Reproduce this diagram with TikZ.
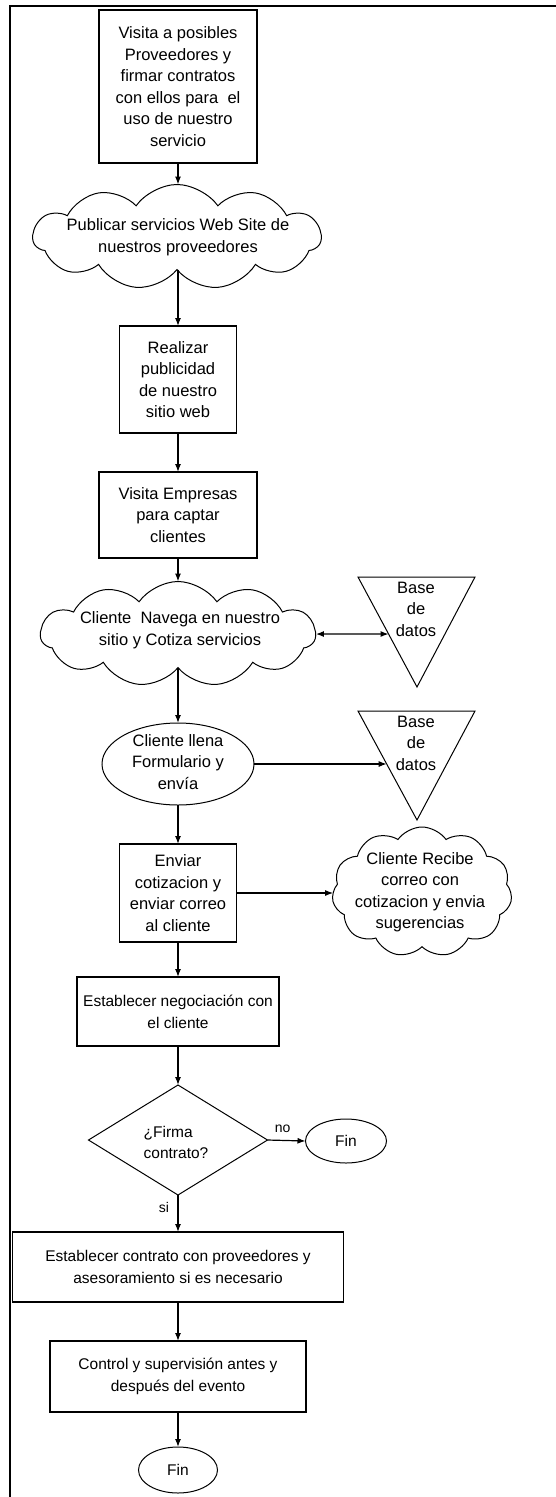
\documentclass[tikz,border=0pt]{standalone}
\usepackage{fontspec}
\setmainfont{Liberation Sans}
\usetikzlibrary{shapes.geometric,shapes.symbols,arrows.meta}
\begin{document}
\begin{tikzpicture}[x=1pt,y=-1pt,
  every node/.style={inner sep=0pt,outer sep=0pt},
  txt/.style={align=center,font=\fontsize{16.5}{21.5}\selectfont},
  txts/.style={align=center,font=\fontsize{15.5}{22}\selectfont},
  box/.style={draw,line width=1.2pt,rectangle,txt},
  boxs/.style={draw,line width=1.2pt,rectangle,txts},
  cloudbox/.style={draw,line width=1pt,cloud,cloud puffs=11,cloud puff arc=110},
  oval/.style={draw,line width=1pt,ellipse},
  dia/.style={draw,line width=1pt,diamond},
  arr/.style={line width=1.2pt,-{Latex[length=8pt,width=6pt]}},
  darr/.style={line width=1.2pt,{Latex[length=8pt,width=6pt]}-{Latex[length=8pt,width=6pt]}},
  lbl/.style={font=\fontsize{14}{16}\selectfont}
]
\useasboundingbox (0,0) rectangle (556,1497);
% frame
\coordinate (fr1) at (10,1497);
\coordinate (fr2) at (10,6);
\coordinate (fr3) at (556,6);
\draw[line width=2pt] (fr1) -- (fr2) -- (fr3);

% main column
\node[box,minimum width=158pt,minimum height=153pt] (b1) at (178,86.5)
  {Visita a posibles\\Proveedores y\\firmar contratos\\con ellos para\ \ el\\uso de nuestro\\servicio};

\node[cloudbox,minimum width=288pt,minimum height=105pt] (c1) at (177,237) {};
\node[txt] (c1t) at (178,237) {Publicar servicios Web Site de\\nuestros proveedores};

\node[box,minimum width=117pt,minimum height=107pt] (b2) at (178,379.5)
  {Realizar\\publicidad\\de nuestro\\sitio web};

\node[box,minimum width=158pt,minimum height=86pt] (b3) at (178,515)
  {Visita Empresas\\para captar\\clientes};

\node[cloudbox,minimum width=275pt,minimum height=105pt] (c2) at (178,634) {};
\node[txt] (c2t) at (180,630) {Cliente\ \ Navega en nuestro\\sitio y Cotiza servicios};

\node[oval,minimum width=152pt,minimum height=82pt] (e1) at (178,764) {};
\node[txt] (e1t) at (178,762) {Cliente llena\\Formulario y\\envía};

\node[box,minimum width=117pt,minimum height=98pt] (b4) at (178,893)
  {Enviar\\cotizacion y\\enviar correo\\al cliente};

\node[boxs,minimum width=202pt,minimum height=69pt] (b5) at (178,1011.5)
  {Establecer negociación con\\el cliente};

\node[dia,minimum width=179pt,minimum height=110pt] (d1) at (178,1140) {};
\node[align=left,font=\fontsize{15.5}{21}\selectfont] (d1t) at (176,1142) {¿Firma\\contrato?};

\node[oval,minimum width=81pt,minimum height=44pt,txts] (f1) at (346,1141) {Fin};

\node[boxs,minimum width=331pt,minimum height=70pt] (b6) at (178,1267)
  {Establecer contrato con proveedores y\\asesoramiento si es necesario};

\node[boxs,minimum width=256pt,minimum height=71pt] (b7) at (178,1376.5)
  {Control y supervisión antes y\\después del evento};

\node[oval,minimum width=79pt,minimum height=46pt,txts] (f2) at (178,1470) {Fin};

% databases (triangles)
\node[txt] (db1) at (416,609) {Base\\de\\datos};
\coordinate (t1a) at (358,577);
\coordinate (t1b) at (475,577);
\coordinate (t1c) at (417,687);
\draw[line width=1pt] (t1a) -- (t1b) -- (t1c) -- cycle;
\coordinate (db1in) at (388.6,634);

\node[txt] (db2) at (416,743) {Base\\de\\datos};
\coordinate (t2a) at (358,711);
\coordinate (t2b) at (475,711);
\coordinate (t2c) at (417,820);
\draw[line width=1pt] (t2a) -- (t2b) -- (t2c) -- cycle;
\coordinate (db2in) at (386.7,764);

% cloud 3
\node[cloudbox,minimum width=180pt,minimum height=130pt] (c3) at (422,892) {};
\node[txt] (c3t) at (420,892) {Cliente Recibe\\correo con\\cotizacion y envia\\sugerencias};

% connectors
\draw[arr] (b1.south) -- (b1.south |- c1.north);
\draw[arr] (c1.south -| b2.north) -- (b2.north);
\draw[arr] (b2.south) -- (b3.north);
\draw[arr] (b3.south) -- (b3.south |- c2.north);
\draw[darr] (c2.east) -- (db1in);
\draw[arr] (c2.south -| e1.north) -- (e1.north);
\draw[arr] (e1.east) -- (db2in);
\draw[arr] (e1.south) -- (b4.north);
\draw[arr] (b4.east) -- (b4.east -| c3.west);
\draw[arr] (b4.south) -- (b5.north);
\draw[arr] (b5.south) -- (d1.north);
\draw[arr] (d1.east) -- (f1.west) node[lbl,pos=0.4,above=8pt] {no};
\draw[arr] (d1.south) -- (b6.north) node[lbl,pos=0.35,left=9pt] {si};
\draw[arr] (b6.south) -- (b7.north);
\draw[arr] (b7.south) -- (f2.north);
\end{tikzpicture}
\end{document}
